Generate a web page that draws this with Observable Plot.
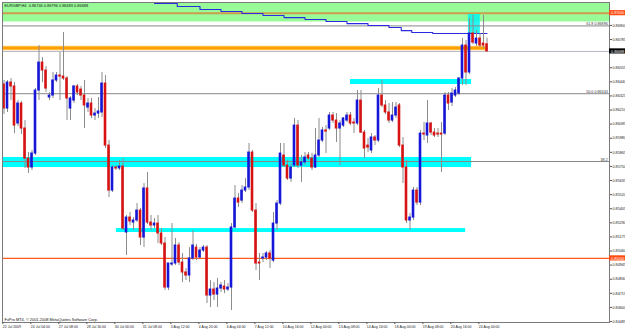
<!DOCTYPE html>
<html><head><meta charset="utf-8">
<script src="https://cdn.jsdelivr.net/npm/d3@7"></script>
<script src="https://cdn.jsdelivr.net/npm/@observablehq/plot@0.6"></script>
<style>body{margin:0;background:#fff}#chart svg{display:block}</style>
</head><body><div id="chart"></div>
<script>
// EURGBP H4 candles (bar 0 = 22 Jul 2009 20:00)
const opens = [0.86418,0.86222,0.86434,0.86402,0.86100,0.86263,0.86059,0.85814,0.85741,0.85855,
0.86369,0.86597,0.86532,0.86312,0.86328,0.86451,0.86491,0.86483,0.86467,0.86222,
0.86287,0.86402,0.86377,0.86328,0.86230,0.86263,0.86165,0.86181,0.86190,0.86426,
0.85920,0.85553,0.85741,0.85733,0.85749,0.85211,0.85333,0.85292,0.85309,0.85390,
0.85170,0.85570,0.85292,0.85268,0.85284,0.85203,0.85121,0.84762,0.84950,0.84958,
0.85105,0.84966,0.84885,0.84860,0.84999,0.85088,0.85007,0.85064,0.85088,0.84697,
0.84746,0.84705,0.84754,0.84770,0.84746,0.84762,0.85252,0.85488,0.85471,0.85553,
0.85578,0.85863,0.85390,0.84966,0.84999,0.85007,0.85040,0.84982,0.85284,0.85447,
0.85839,0.85757,0.85651,0.85757,0.86083,0.85757,0.85782,0.85839,0.85814,0.85741,
0.85839,0.85961,0.86043,0.86059,0.86165,0.86124,0.86059,0.86083,0.86124,0.86165,
0.86108,0.86100,0.86287,0.86026,0.85920,0.85880,0.85986,0.85961,0.86328,0.86247,
0.86190,0.86124,0.86165,0.86247,0.85920,0.85741,0.85309,0.85333,0.85553,0.85455,
0.86018,0.86002,0.86100,0.86026,0.86018,0.86018,0.86018,0.86328,0.86271,0.86328,
0.86344,0.86467,0.86736,0.86516,0.86834,0.86752,0.86793,0.86752,0.86746];
const highs = [0.86451,0.86451,0.86467,0.86434,0.86287,0.86279,0.86124,0.85863,0.85880,0.86385,
0.86736,0.86638,0.86565,0.86353,0.86516,0.86516,0.86679,0.86842,0.86483,0.86320,
0.86410,0.86418,0.86402,0.86451,0.86304,0.86304,0.86222,0.86312,0.86516,0.86491,
0.85961,0.85757,0.85757,0.85798,0.85814,0.85350,0.85374,0.85333,0.85447,0.85407,
0.85610,0.85700,0.85350,0.85325,0.85350,0.85243,0.85170,0.84958,0.85284,0.85162,
0.85129,0.85040,0.84917,0.85088,0.85227,0.85113,0.85088,0.85105,0.85105,0.84819,
0.84803,0.84836,0.84803,0.84819,0.84795,0.85284,0.85594,0.85529,0.85594,0.85651,
0.85937,0.85880,0.85447,0.85040,0.85040,0.85056,0.85064,0.85374,0.85471,0.85937,
0.85937,0.85798,0.85774,0.86141,0.86124,0.85839,0.85863,0.85863,0.85855,0.86059,
0.86141,0.86067,0.86083,0.86190,0.86190,0.86181,0.86124,0.86149,0.86190,0.86190,
0.86141,0.86369,0.86369,0.86043,0.85977,0.86018,0.86002,0.86385,0.86451,0.86287,
0.86263,0.86271,0.86271,0.86263,0.85986,0.85798,0.85366,0.85578,0.85578,0.86043,
0.86108,0.86287,0.86108,0.86059,0.86059,0.86108,0.86353,0.86353,0.86385,0.86393,
0.86475,0.86793,0.86777,0.86956,0.86981,0.86858,0.86834,0.86981,0.86796];
const lows = [0.86173,0.86190,0.86287,0.86018,0.86075,0.86010,0.85733,0.85692,0.85716,0.85839,
0.86287,0.86434,0.86353,0.86287,0.86304,0.86434,0.86287,0.86451,0.86124,0.86124,
0.86263,0.86328,0.86287,0.86059,0.86190,0.86141,0.86124,0.86141,0.86149,0.85896,
0.85496,0.85537,0.85716,0.85716,0.85227,0.85023,0.85268,0.85227,0.85292,0.85105,
0.85088,0.85276,0.85227,0.85243,0.85121,0.85105,0.84738,0.84738,0.84933,0.84942,
0.84942,0.84803,0.84819,0.84803,0.84982,0.84982,0.84999,0.85048,0.84632,0.84599,
0.84656,0.84599,0.84721,0.84713,0.84730,0.84575,0.85243,0.85415,0.85447,0.85537,
0.85553,0.85374,0.84901,0.84819,0.84966,0.84982,0.84917,0.84966,0.85227,0.85431,
0.85741,0.85635,0.85619,0.85741,0.85733,0.85619,0.85757,0.85798,0.85716,0.85733,
0.85823,0.85945,0.85855,0.86043,0.86100,0.85945,0.85757,0.86067,0.86108,0.86083,
0.86018,0.86083,0.86018,0.85814,0.85863,0.85855,0.85920,0.85945,0.86230,0.86173,
0.86100,0.86108,0.86141,0.85904,0.85610,0.85284,0.85227,0.85309,0.85431,0.85431,
0.85961,0.85937,0.86002,0.85986,0.85986,0.85700,0.86002,0.86206,0.86238,0.86312,
0.86328,0.86410,0.86410,0.86499,0.86744,0.86728,0.86720,0.86712,0.86683];
const closes = [0.86222,0.86434,0.86402,0.86083,0.86263,0.86059,0.85814,0.85741,0.85855,0.86369,
0.86597,0.86532,0.86385,0.86328,0.86451,0.86491,0.86483,0.86467,0.86304,0.86304,
0.86402,0.86353,0.86328,0.86247,0.86263,0.86165,0.86181,0.86198,0.86426,0.85920,
0.85553,0.85741,0.85733,0.85749,0.85243,0.85333,0.85301,0.85309,0.85390,0.85170,
0.85570,0.85292,0.85268,0.85284,0.85203,0.85121,0.84762,0.84958,0.84958,0.85105,
0.84966,0.84885,0.84860,0.84999,0.85105,0.85007,0.85064,0.85088,0.84697,0.84746,
0.84705,0.84754,0.84779,0.84746,0.84762,0.85252,0.85488,0.85455,0.85553,0.85578,
0.85863,0.85390,0.84958,0.84958,0.85007,0.85040,0.84999,0.85284,0.85447,0.85855,
0.85757,0.85651,0.85741,0.86083,0.85757,0.85782,0.85823,0.85814,0.85741,0.85839,
0.85961,0.86043,0.86034,0.86165,0.86124,0.86059,0.86100,0.86141,0.86165,0.86100,
0.86100,0.86287,0.86026,0.85896,0.85904,0.85986,0.85961,0.86328,0.86247,0.86190,
0.86124,0.86165,0.86230,0.85920,0.85741,0.85309,0.85333,0.85553,0.85455,0.86018,
0.86010,0.86100,0.86026,0.86002,0.86010,0.86010,0.86328,0.86263,0.86344,0.86369,
0.86467,0.86736,0.86516,0.86834,0.86760,0.86793,0.86736,0.86736,0.86688];

// time axis labels (every 8 bars)
const xTickBars = [0,8,16,24,32,40,48,56,64,72,80,88,96,104,112,120,128,136];
const xTickLabels = ["22 Jul 2009","24 Jul 04:00","27 Jul 08:00","28 Jul 16:00","30 Jul 00:00","31 Jul 08:00",
"3 Aug 12:00","4 Aug 20:00","6 Aug 04:00","7 Aug 12:00","10 Aug 16:00","12 Aug 00:00","13 Aug 08:00",
"14 Aug 16:00","18 Aug 00:00","19 Aug 08:00","20 Aug 16:00","24 Aug 00:00"];
// price axis labels
const yTickLabels = ["0.84485","0.84600","0.84715","0.84830","0.84945","0.85060","0.85175","0.85290","0.85405",
"0.85520","0.85635","0.85750","0.85865","0.85980","0.86095","0.86210","0.86325","0.86440","0.86555",
"0.86670","0.86785","0.86900","0.87015"];

// step-like blue indicator
const maBars = [43,49.5,56,62,68,74,80,86,92,98,104,110,113.5,116.5,122.5,138];
const maValues = [0.87080,0.87054,0.87030,0.87013,0.86997,0.86981,0.86964,0.86948,0.86932,0.86915,0.86899,0.86883,0.86858,0.86842,0.86834,0.86834];

// zones (bar from, bar to, low price, high price)
const greenFrom = [-0.43], greenTo = [173], greenLo = [0.86928], greenHi = [0.87087];
const cyanFrom = [-0.43, 32.1, 99], cyanTo = [133.6, 131.9, 133.6];
const cyanLo = [0.85741, 0.85211, 0.86418], cyanHi = [0.85823, 0.85243, 0.86459];
const boxFrom = [132.7], boxTo = [136.1], boxLo = [0.86826], boxHi = [0.86989];

// levels
const fibValues = [0.86896, 0.86343, 0.85790];
const fibLabels = ["61.8 0.86896", "50.0 0.86343", "38.2"];
const redLevels = [0.87000, 0.85000];
const orangeLevel = 0.86716, orangeEnd = 137.6;
const bid = 0.86688;
const priceTags = [0.87000, 0.86688, 0.85000];
const priceTagText = ["0.87000", "0.86688", "0.85000"];
const tagFill = ["#ff4a10", "#000000", "#ff4a10"];

const title = "EURGBP,H4  0.86746 0.86796 0.86683 0.86688";
const caption = "FxPro MT4, © 2001-2008 MetaQuotes Software Corp.";

// ---- build tables
const bars = opens.map((o, i) => ({i, o, h: highs[i], l: lows[i], c: closes[i], up: closes[i] >= o}));
const zip = (a, b, c, d) => a.map((_, k) => ({x1: a[k], x2: b[k], y1: c[k], y2: d[k]}));
const green = zip(greenFrom, greenTo, greenLo, greenHi);
const cyan = zip(cyanFrom, cyanTo, cyanLo, cyanHi);
const box = zip(boxFrom, boxTo, boxLo, boxHi);
const ma = maBars.map((b, k) => ({b, v: maValues[k]}));
const fibs = fibValues.map((v, k) => ({v, t: fibLabels[k]}));
const tags = priceTags.map((v, k) => ({v, t: priceTagText[k], f: tagFill[k]}));
const tagH = 0.00021;
// axis labels hidden behind the price tags are not drawn (as in the terminal)
const yTicks = yTickLabels.map(Number).filter(v => priceTags.slice(0, 2).every(p => Math.abs(p - v) > 0.0003));
const X0 = -0.43, X1 = 173.0;
const half = 0.37;

const chart = Plot.plot({
  width: 625, height: 330,
  marginLeft: 2, marginRight: 16, marginTop: 2, marginBottom: 8,
  x: {type: "linear", domain: [X0, X1], axis: null},
  y: {type: "linear", domain: [0.84477, 0.87087], axis: null},
  style: {fontFamily: "'Liberation Sans', Arial, sans-serif", fontSize: "3.7px", background: "#ffffff", color: "#000", overflow: "visible"},
  marks: [
    Plot.rect(green, {x1: "x1", x2: "x2", y1: "y1", y2: "y2", fill: "#98fb98"}),
    Plot.ruleY([redLevels[0]], {stroke: "#cc9c4c", strokeWidth: 2}),
    Plot.rect(cyan, {x1: "x1", x2: "x2", y1: "y1", y2: "y2", fill: "#00ffff"}),
    Plot.rect(box, {x1: "x1", x2: "x2", y1: "y1", y2: "y2", fill: "#00f5f0", fillOpacity: 0.85}),
    Plot.ruleY(fibs, {y: "v", stroke: "#888888", strokeWidth: 1}),
    Plot.ruleY([bid], {stroke: "#b4b4c4", strokeWidth: 1}),
    Plot.ruleY([redLevels[1]], {stroke: "#ff5a1a", strokeWidth: 1.2}),
    Plot.ruleY([orangeLevel], {x1: X0, x2: orangeEnd, stroke: "#ffd27a", strokeWidth: 4.5}),
    Plot.ruleY([orangeLevel], {x1: X0, x2: orangeEnd, stroke: "#ffa000", strokeWidth: 2.8}),
    Plot.line(ma, {x: "b", y: "v", stroke: "#2a2ae0", strokeWidth: 1.1, curve: "step-after"}),
    Plot.ruleX(bars, {x: "i", y1: "l", y2: "h", stroke: "#8c8c8c", strokeWidth: 1}),
    Plot.rect(bars, {x1: d => d.i - half, x2: d => d.i + half, y1: "o", y2: "c",
      fill: d => d.up ? "#1616d8" : "#d81212", insetTop: -0.5, insetBottom: -0.5}),
    Plot.text(fibs, {x: X1 - 0.5, y: "v", text: "t", textAnchor: "end", lineAnchor: "bottom", dy: -0.8, fill: "#333", fontSize: 3.7}),
    Plot.frame({stroke: "#7a7a7a", strokeWidth: 1}),
    Plot.axisY(yTicks, {anchor: "right", tickSize: 2, tickPadding: 1, tickFormat: d3.format(".5f"), fontSize: 3.7, stroke: "#555", fill: "#222"}),
    Plot.axisX(xTickBars.map(b => b - 0.5), {anchor: "bottom", tickSize: 2, tickPadding: 0.6, textAnchor: "start", dx: 0.6,
      tickFormat: d => xTickLabels[Math.round((d + 0.5) / 8)], fontSize: 3.5, stroke: "#555", fill: "#222"}),
    Plot.rect(tags, {x1: X1, x2: X1 + 5, y1: d => d.v - tagH, y2: d => d.v + tagH, fill: d => d.f}),
    Plot.text(tags, {x: X1 + 0.45, y: "v", text: "t", textAnchor: "start", fill: "#ffffff", fontSize: 3.7}),
    Plot.text([title], {frameAnchor: "top-left", dx: 2, dy: 2.2, text: d => d, textAnchor: "start", lineAnchor: "top", fontSize: 3.9, fill: "#111"}),
    Plot.text([caption], {frameAnchor: "bottom-left", dx: 2, dy: -2, text: d => d, textAnchor: "start", lineAnchor: "bottom", fontSize: 3.9, fill: "#111"})
  ]
});
document.getElementById("chart").append(chart);
</script>
</body></html>
